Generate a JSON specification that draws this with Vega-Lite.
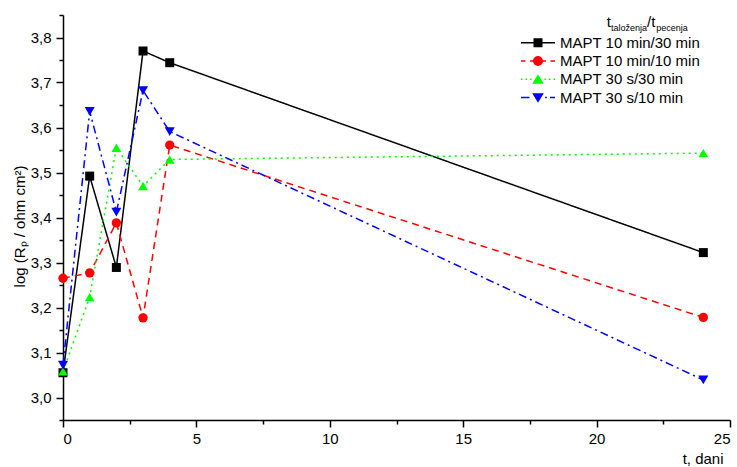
{
  "$schema": "https://vega.github.io/schema/vega-lite/v6.json",
  "autosize": "none",
  "width": 667,
  "height": 405,
  "padding": {"left": 63, "top": 15, "right": 7, "bottom": 47},
  "background": "white",
  "config": {
    "view": {"stroke": null},
    "font": "Liberation Sans",
    "axis": {
      "domainColor": "black", "tickColor": "black", "labelColor": "black", "titleColor": "black",
      "labelFont": "Liberation Sans", "titleFont": "Liberation Sans",
      "labelFontSize": 15, "titleFontSize": 15, "titleFontWeight": "normal",
      "grid": false, "domainWidth": 1.5, "tickWidth": 1.5, "labelOverlap": false
    }
  },
  "data": {"values": [
    {"series": "MAPT 10 min/30 min", "t": 0, "logR": 3.055},
    {"series": "MAPT 10 min/30 min", "t": 1, "logR": 3.492},
    {"series": "MAPT 10 min/30 min", "t": 2, "logR": 3.289},
    {"series": "MAPT 10 min/30 min", "t": 3, "logR": 3.770},
    {"series": "MAPT 10 min/30 min", "t": 4, "logR": 3.744},
    {"series": "MAPT 10 min/30 min", "t": 24, "logR": 3.322},
    {"series": "MAPT 10 min/10 min", "t": 0, "logR": 3.265},
    {"series": "MAPT 10 min/10 min", "t": 1, "logR": 3.277},
    {"series": "MAPT 10 min/10 min", "t": 2, "logR": 3.388},
    {"series": "MAPT 10 min/10 min", "t": 3, "logR": 3.177},
    {"series": "MAPT 10 min/10 min", "t": 4, "logR": 3.561},
    {"series": "MAPT 10 min/10 min", "t": 24, "logR": 3.178},
    {"series": "MAPT 30 s/30 min", "t": 0, "logR": 3.058},
    {"series": "MAPT 30 s/30 min", "t": 1, "logR": 3.223},
    {"series": "MAPT 30 s/30 min", "t": 2, "logR": 3.555},
    {"series": "MAPT 30 s/30 min", "t": 3, "logR": 3.470},
    {"series": "MAPT 30 s/30 min", "t": 4, "logR": 3.529},
    {"series": "MAPT 30 s/30 min", "t": 24, "logR": 3.543},
    {"series": "MAPT 30 s/10 min", "t": 0, "logR": 3.072},
    {"series": "MAPT 30 s/10 min", "t": 1, "logR": 3.636},
    {"series": "MAPT 30 s/10 min", "t": 2, "logR": 3.412},
    {"series": "MAPT 30 s/10 min", "t": 3, "logR": 3.682},
    {"series": "MAPT 30 s/10 min", "t": 4, "logR": 3.591},
    {"series": "MAPT 30 s/10 min", "t": 24, "logR": 3.039}
  ]},
  "encoding": {
    "x": {
      "field": "t", "type": "quantitative",
      "scale": {"domain": [0, 25], "nice": false, "zero": false},
      "axis": {
        "values": [0, 2.5, 5, 7.5, 10, 12.5, 15, 17.5, 20, 22.5, 25],
        "labelExpr": "datum.value % 5 === 0 ? datum.label : ''",
        "tickSize": {"condition": {"test": "datum.value % 5 === 0", "value": 7}, "value": 4},
        "labelPadding": 4,
        "title": "t, dani",
        "titleAnchor": "end", "titleAlign": "right", "titleX": 660, "titleY": 43, "titleBaseline": "alphabetic"
      }
    },
    "y": {
      "field": "logR", "type": "quantitative",
      "scale": {"domain": [2.95, 3.85], "nice": false, "zero": false},
      "axis": {
        "values": [2.95, 3.0, 3.05, 3.1, 3.15, 3.2, 3.25, 3.3, 3.35, 3.4, 3.45, 3.5, 3.55, 3.6, 3.65, 3.7, 3.75, 3.8, 3.85],
        "labelExpr": "abs(datum.value*10 - round(datum.value*10)) < 0.001 ? replace(format(datum.value, '.1f'), '.', ',') : ''",
        "tickSize": {"condition": {"test": "abs(datum.value*10 - round(datum.value*10)) < 0.001", "value": 7}, "value": 4},
        "labelPadding": 5,
        "title": "log (Rₚ / ohm cm²)",
        "titlePadding": 3,
        "titleY": 211
      }
    }
  },
  "layer": [
    {
      "mark": {"type": "line", "strokeWidth": 1.5},
      "encoding": {
        "color": {"field": "series", "type": "nominal", "legend": null,
          "scale": {"domain": ["MAPT 10 min/30 min", "MAPT 10 min/10 min", "MAPT 30 s/30 min", "MAPT 30 s/10 min"],
                    "range": ["#000000", "#ff0000", "#00ff00", "#0000ff"]}},
        "strokeDash": {"field": "series", "type": "nominal", "legend": null,
          "scale": {"domain": ["MAPT 10 min/30 min", "MAPT 10 min/10 min", "MAPT 30 s/30 min", "MAPT 30 s/10 min"],
                    "range": [[1, 0], [7, 5], [2, 4], [8, 4, 2, 4]]}}
      }
    },
    {
      "mark": {"type": "point", "filled": true, "opacity": 1, "strokeWidth": 0},
      "encoding": {
        "color": {"field": "series", "type": "nominal", "legend": null,
          "scale": {"domain": ["MAPT 10 min/30 min", "MAPT 10 min/10 min", "MAPT 30 s/30 min", "MAPT 30 s/10 min"],
                    "range": ["#000000", "#ff0000", "#00ff00", "#0000ff"]}},
        "shape": {"field": "series", "type": "nominal", "legend": null,
          "scale": {"domain": ["MAPT 10 min/30 min", "MAPT 10 min/10 min", "MAPT 30 s/30 min", "MAPT 30 s/10 min"],
                    "range": ["square", "circle", "triangle-up", "triangle-down"]}},
        "size": {"field": "series", "type": "nominal", "legend": null,
          "scale": {"domain": ["MAPT 10 min/30 min", "MAPT 10 min/10 min", "MAPT 30 s/30 min", "MAPT 30 s/10 min"],
                    "range": [81, 100, 130, 130]}}
      }
    },
    {
      "mark": {"type": "point", "filled": true, "opacity": 0, "strokeWidth": 0},
      "encoding": {
        "color": {"field": "series", "type": "nominal",
          "scale": {"domain": ["MAPT 10 min/30 min", "MAPT 10 min/10 min", "MAPT 30 s/30 min", "MAPT 30 s/10 min"],
                    "range": ["#000000", "#ff0000", "#00ff00", "#0000ff"]},
          "legend": {"orient": "none", "legendX": 458, "legendY": 18.7, "title": null,
            "symbolSize": 1156, "clipHeight": 18, "rowPadding": 0.3, "padding": 0,
            "labelFontSize": 15, "labelFont": "Liberation Sans", "labelColor": "black",
            "labelOffset": 5, "labelLimit": 300, "symbolStrokeWidth": 0, "symbolOpacity": 1,
            "encode": {"symbols": {"update": {"opacity": {"value": 1}, "fillOpacity": {"value": 1}}}}}},
        "shape": {"field": "series", "type": "nominal",
          "scale": {"domain": ["MAPT 10 min/30 min", "MAPT 10 min/10 min", "MAPT 30 s/30 min", "MAPT 30 s/10 min"],
                    "range": [
                      "M-1,-0.045H1V0.045H-1Z M-0.265,-0.265H0.265V0.265H-0.265Z",
                      "M-1,-0.045H-0.735V0.045H-1Z M-0.47,-0.045H-0.2V0.045H-0.47Z M0.2,-0.045H0.47V0.045H0.2Z M0.735,-0.045H1V0.045H0.735Z M0.29,0A0.29,0.29 0 1,1 -0.29,0A0.29,0.29 0 1,1 0.29,0Z",
                      "M-1,-0.045H-0.91V0.045H-1Z M-0.735,-0.045H-0.645V0.045H-0.735Z M-0.47,-0.045H-0.38V0.045H-0.47Z M0.38,-0.045H0.47V0.045H0.38Z M0.645,-0.045H0.735V0.045H0.645Z M0.91,-0.045H1V0.045H0.91Z M0,-0.3L0.34,0.26L-0.34,0.26Z",
                      "M-1,-0.045H-0.5V0.045H-1Z M0.42,-0.045H0.52V0.045H0.42Z M0.7,-0.045H1V0.045H0.7Z M-0.34,-0.26L0.34,-0.26L0,0.3Z"
                    ]}}
      }
    },
    {
      "transform": [{"filter": "datum.t === 24 && datum.series === 'MAPT 10 min/30 min'"}],
      "mark": {"type": "text", "text": "t", "fontSize": 15, "align": "left", "baseline": "alphabetic", "color": "black"},
      "encoding": {"x": {"datum": 20.38, "type": "quantitative"}, "y": {"datum": 3.824, "type": "quantitative"}}
    },
    {
      "transform": [{"filter": "datum.t === 24 && datum.series === 'MAPT 10 min/30 min'"}],
      "mark": {"type": "text", "text": "taloženja", "fontSize": 9, "align": "left", "baseline": "alphabetic", "dx": 4.3, "dy": 4, "color": "black"},
      "encoding": {"x": {"datum": 20.38, "type": "quantitative"}, "y": {"datum": 3.824, "type": "quantitative"}}
    },
    {
      "transform": [{"filter": "datum.t === 24 && datum.series === 'MAPT 10 min/30 min'"}],
      "mark": {"type": "text", "text": "/t", "fontSize": 15, "align": "left", "baseline": "alphabetic", "dx": 40.3, "color": "black"},
      "encoding": {"x": {"datum": 20.38, "type": "quantitative"}, "y": {"datum": 3.824, "type": "quantitative"}}
    },
    {
      "transform": [{"filter": "datum.t === 24 && datum.series === 'MAPT 10 min/30 min'"}],
      "mark": {"type": "text", "text": "pecenja", "fontSize": 9, "align": "left", "baseline": "alphabetic", "dx": 49.5, "dy": 4, "color": "black"},
      "encoding": {"x": {"datum": 20.38, "type": "quantitative"}, "y": {"datum": 3.824, "type": "quantitative"}}
    }
  ],
  "resolve": {"scale": {"color": "independent", "shape": "independent", "size": "independent"}}
}
